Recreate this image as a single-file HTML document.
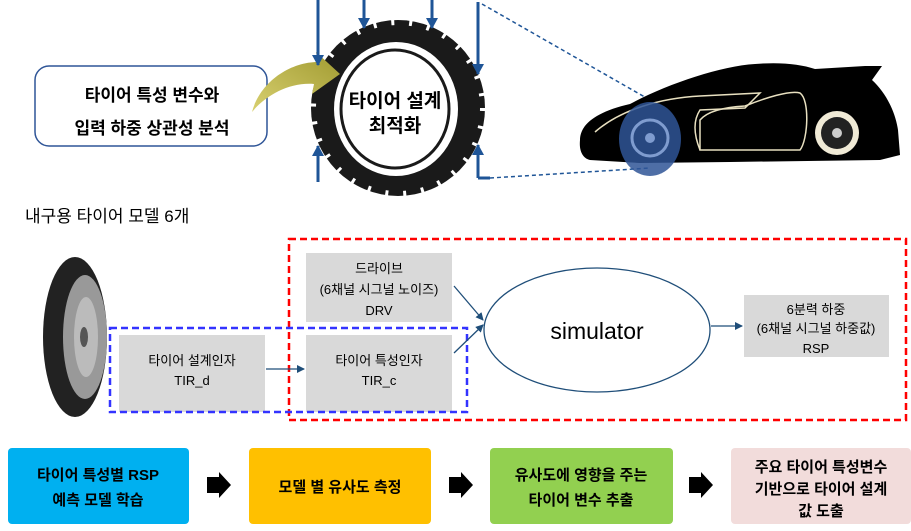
<!DOCTYPE html>
<html><head><meta charset="utf-8"><style>
body{margin:0;background:#fff;width:911px;height:531px;overflow:hidden}
svg{display:block}
text{font-family:"Liberation Sans","Noto Sans CJK KR",sans-serif}
</style></head><body>
<svg width="911" height="531" viewBox="0 0 911 531" xmlns="http://www.w3.org/2000/svg">
<defs>
<marker id="ah" markerWidth="8" markerHeight="8" refX="7" refY="4" orient="auto" markerUnits="userSpaceOnUse"><path d="M0,0 L8,4 L0,8 z" fill="#1f4e79"/></marker>
<marker id="bh" markerWidth="12" markerHeight="12" refX="10" refY="6" orient="auto" markerUnits="userSpaceOnUse"><path d="M0,0 L11,6 L0,12 z" fill="#1f5597"/></marker>
<linearGradient id="gy" x1="0" y1="1" x2="1" y2="0"><stop offset="0" stop-color="#d8d070"/><stop offset="1" stop-color="#a09a30"/></linearGradient>
</defs>

<!-- callout -->
<rect x="35" y="66" width="232" height="80" rx="14" fill="#fff" stroke="#2f5597" stroke-width="1.5"/>
<text x="152" y="101" font-size="17" font-weight="bold" text-anchor="middle">타이어 특성 변수와</text>
<text x="152" y="134" font-size="17" font-weight="bold" text-anchor="middle">입력 하중 상관성 분석</text>

<!-- tire -->
<ellipse cx="398" cy="108" rx="87" ry="88" fill="#1a1a1a"/>
<ellipse cx="398" cy="108" rx="85" ry="86" fill="none" stroke="#fff" stroke-width="6" stroke-dasharray="3 15"/>
<ellipse cx="396" cy="109" rx="62" ry="67" fill="#fff"/>
<ellipse cx="395" cy="109" rx="54" ry="59" fill="none" stroke="#1a1a1a" stroke-width="3"/>
<text x="395" y="107" font-size="19" font-weight="bold" text-anchor="middle">타이어 설계</text>
<text x="395" y="132" font-size="19" font-weight="bold" text-anchor="middle">최적화</text>

<path d="M252,112 C260,82 290,62 318,62 L316,52 L340,74 L312,94 L314,84 C290,82 266,95 252,112 z" fill="url(#gy)"/>

<!-- load arrows -->
<g stroke="#1f5597" stroke-width="3" fill="none">
<line x1="318" y1="0" x2="318" y2="65" marker-end="url(#bh)"/>
<line x1="364" y1="0" x2="364" y2="28" marker-end="url(#bh)"/>
<line x1="432" y1="0" x2="432" y2="28" marker-end="url(#bh)"/>
<line x1="478" y1="2" x2="478" y2="74" marker-end="url(#bh)"/>
<line x1="318" y1="182" x2="318" y2="146" marker-end="url(#bh)"/>
<line x1="478" y1="178" x2="478" y2="145" marker-end="url(#bh)"/>
</g>
<line x1="478" y1="178" x2="490" y2="178" stroke="#1f5597" stroke-width="3"/>
<g stroke="#1f5597" stroke-width="1.5" stroke-dasharray="4 3">
<line x1="482" y1="4" x2="650" y2="100"/>
<line x1="490" y1="178" x2="650" y2="168"/>
</g>

<!-- car -->
<path d="M580,140 C580,125 595,112 630,104 C665,85 720,66 755,64 C780,62 800,64 815,69 L865,66 L882,66 L872,80 C885,92 895,110 898,130 L900,155 L880,160 L730,162 L640,163 L590,160 C582,158 579,150 580,140 z" fill="#000"/>
<path d="M595,132 C620,110 660,98 700,96 L760,93 L745,108 L700,110 Q690,125 700,150" fill="none" stroke="#e8e0c0" stroke-width="1.5"/>
<path d="M700,150 L700,120 Q710,108 745,106 C765,98 790,90 800,93 C810,100 808,140 800,150 Z" fill="none" stroke="#e8e0c0" stroke-width="1.5"/>
<circle cx="837" cy="133" r="22" fill="#f0ead6"/>
<circle cx="837" cy="133" r="16" fill="#222"/>
<circle cx="837" cy="133" r="5" fill="#ccc"/>
<ellipse cx="650" cy="139" rx="31" ry="37" fill="#2f5597" opacity="0.85"/>
<circle cx="650" cy="138" r="18" fill="none" stroke="#7f9ccf" stroke-width="3"/>
<circle cx="650" cy="138" r="5" fill="#7f9ccf"/>

<!-- section 2 -->
<text x="25" y="222" font-size="17">내구용 타이어 모델 6개</text>

<!-- tire photo -->
<ellipse cx="75" cy="337" rx="32" ry="80" fill="#222"/>
<ellipse cx="85" cy="337" rx="22" ry="62" fill="#999"/>
<ellipse cx="86" cy="337" rx="12" ry="40" fill="#bbb"/>
<ellipse cx="84" cy="337" rx="4" ry="10" fill="#555"/>

<rect x="289" y="239" width="617" height="181" fill="none" stroke="#ff0000" stroke-width="2.5" stroke-dasharray="7 4"/>

<rect x="306" y="253" width="146" height="69" fill="#d9d9d9"/>
<text x="379" y="273" font-size="13" text-anchor="middle">드라이브</text>
<text x="379" y="294" font-size="13" text-anchor="middle">(6채널 시그널 노이즈)</text>
<text x="379" y="315" font-size="13" text-anchor="middle">DRV</text>

<rect x="119" y="335" width="146" height="77" fill="#d9d9d9"/>
<text x="192" y="365" font-size="13" text-anchor="middle">타이어 설계인자</text>
<text x="192" y="385" font-size="13" text-anchor="middle">TIR_d</text>

<rect x="306" y="335" width="146" height="77" fill="#d9d9d9"/>
<text x="379" y="365" font-size="13" text-anchor="middle">타이어 특성인자</text>
<text x="379" y="385" font-size="13" text-anchor="middle">TIR_c</text>

<rect x="744" y="295" width="145" height="62" fill="#d9d9d9"/>
<text x="816" y="314" font-size="13" text-anchor="middle">6분력 하중</text>
<text x="816" y="333" font-size="13" text-anchor="middle">(6채널 시그널 하중값)</text>
<text x="816" y="353" font-size="13" text-anchor="middle">RSP</text>

<rect x="110" y="328" width="357" height="84" fill="none" stroke="#3333ff" stroke-width="2.5" stroke-dasharray="7 4"/>

<ellipse cx="597" cy="330" rx="113" ry="62" fill="#fff" stroke="#1f4e79" stroke-width="1.3"/>
<text x="597" y="339" font-size="23" text-anchor="middle">simulator</text>

<g stroke="#1f4e79" stroke-width="1.3" fill="none">
<line x1="454" y1="286" x2="483" y2="320" marker-end="url(#ah)"/>
<line x1="454" y1="353" x2="483" y2="325" marker-end="url(#ah)"/>
<line x1="266" y1="369" x2="304" y2="369" marker-end="url(#ah)"/>
<line x1="711" y1="326" x2="742" y2="326" marker-end="url(#ah)"/>
</g>

<!-- bottom flow -->
<rect x="8" y="448" width="181" height="76" rx="4" fill="#00b0f0"/>
<text x="98" y="480" font-size="15" font-weight="bold" text-anchor="middle">타이어 특성별 RSP</text>
<text x="98" y="505" font-size="15" font-weight="bold" text-anchor="middle">예측 모델 학습</text>
<rect x="249" y="448" width="182" height="76" rx="4" fill="#ffc000"/>
<text x="340" y="492" font-size="15" font-weight="bold" text-anchor="middle">모델 별 유사도 측정</text>
<rect x="490" y="448" width="183" height="76" rx="4" fill="#92d050"/>
<text x="581" y="480" font-size="15" font-weight="bold" text-anchor="middle">유사도에 영향을 주는</text>
<text x="581" y="505" font-size="15" font-weight="bold" text-anchor="middle">타이어 변수 추출</text>
<rect x="731" y="448" width="180" height="76" rx="4" fill="#f2dcdb"/>
<text x="821" y="472" font-size="15" font-weight="bold" text-anchor="middle">주요 타이어 특성변수</text>
<text x="821" y="494" font-size="15" font-weight="bold" text-anchor="middle">기반으로 타이어 설계</text>
<text x="821" y="516" font-size="15" font-weight="bold" text-anchor="middle">값 도출</text>

<g fill="#000">
<path d="M207,477 L219,477 L219,472 L231,485 L219,498 L219,493 L207,493 z"/>
<path d="M449,477 L461,477 L461,472 L473,485 L461,498 L461,493 L449,493 z"/>
<path d="M689,477 L701,477 L701,472 L713,485 L701,498 L701,493 L689,493 z"/>
</g>
</svg>
</body></html>
